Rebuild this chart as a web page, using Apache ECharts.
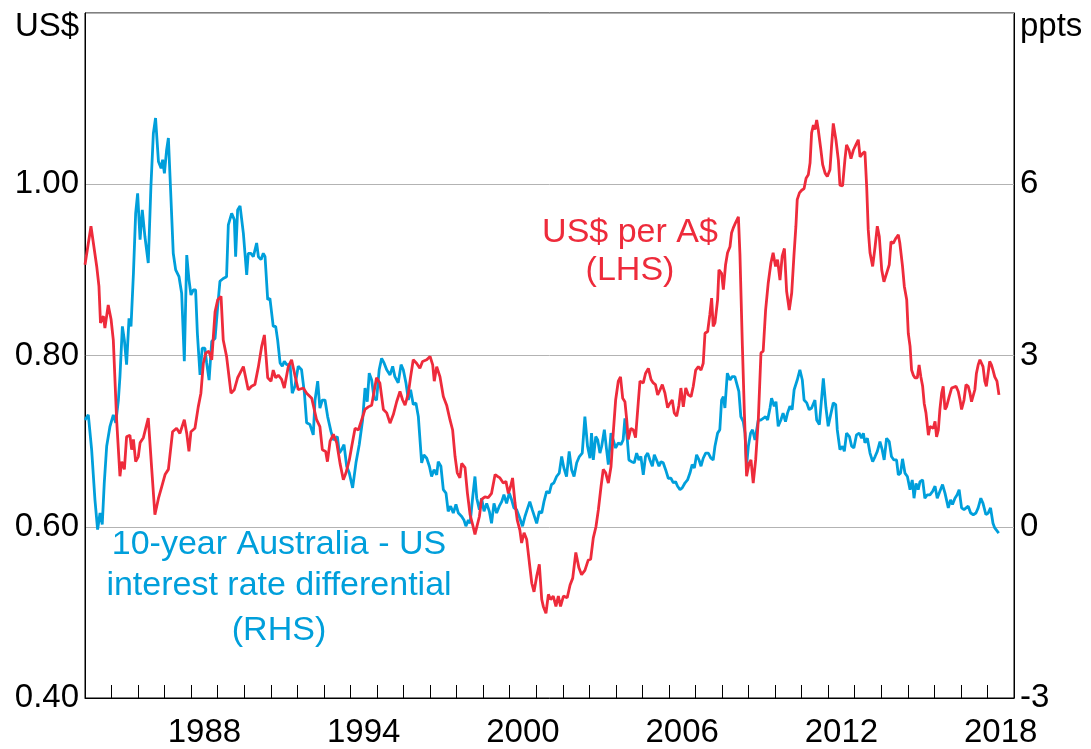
<!DOCTYPE html>
<html>
<head>
<meta charset="utf-8">
<script src="https://cdn.jsdelivr.net/npm/echarts@6/dist/echarts.min.js"></script>
<style>
html,body{margin:0;padding:0;background:#fff;}
#chart{width:1091px;height:749px;}
</style>
</head>
<body>
<div id="chart"></div>
<script>
// Months since Jan 1984, value
const usdPerAud = [[0,.906],[2.7,.951],[5.3,.904],[6.3,.881],[7,.838],[8.3,.846],[9,.832],[10.5,.859],[11.8,.842],[12.8,.818],[14.3,.725],[15.8,.659],[16.6,.676],[17.8,.667],[18.8,.705],[20.3,.707],[21.1,.690],[21.9,.702],[22.9,.676],[24.1,.682],[24.9,.698],[26.4,.704],[28.6,.727],[30.1,.670],[31.6,.614],[33.2,.633],[34.7,.647],[36.2,.661],[37.7,.667],[39.6,.711],[41.4,.715],[42.9,.709],[43.7,.707],[44.9,.725],[46,.709],[47,.688],[47.9,.711],[49.7,.715],[51.2,.740],[52.4,.756],[53.5,.791],[54.6,.803],[56,.805],[57.3,.795],[58.8,.851],[60,.865],[61.5,.869],[62.5,.818],[64,.799],[66,.756],[67.5,.760],[69,.774],[71.6,.787],[73.8,.760],[75.3,.764],[76.8,.766],[78.4,.787],[79.9,.811],[81.1,.824],[82.6,.774],[84.1,.770],[85.1,.783],[86.2,.774],[87.4,.777],[88.9,.772],[90.1,.762],[91.9,.787],[93.4,.795],[94.9,.777],[96.4,.760],[98.7,.762],[100.2,.756],[102.5,.750],[104.7,.725],[106.2,.717],[107.3,.690],[108.8,.688],[109.6,.676],[110.8,.700],[112.3,.708],[113.8,.698],[115.3,.674],[116.8,.655],[118,.663],[119.5,.678],[120.6,.694],[122.1,.715],[123.6,.713],[125.1,.725],[126.6,.737],[128.1,.740],[129.6,.742],[130.3,.752],[131.8,.774],[133.3,.768],[134.9,.737],[136.4,.733],[137.9,.721],[139.4,.731],[140.9,.746],[142.4,.758],[143.6,.748],[144.7,.742],[146.2,.756],[147.2,.775],[148.4,.795],[149.9,.791],[151.4,.785],[152.6,.793],[154.5,.795],[156,.799],[157.2,.789],[157.9,.770],[159,.787],[160.5,.775],[162,.752],[163.5,.742],[165,.725],[166.2,.713],[167.3,.682],[168.3,.663],[169.5,.657],[170.3,.674],[171.8,.669],[172.9,.639],[174.1,.614],[175.3,.602],[176.3,.591],[177.1,.589],[178.3,.612],[179.3,.632],[180.8,.635],[182.3,.634],[183.8,.639],[185.4,.661],[186.4,.659],[187.6,.657],[189.1,.651],[190.3,.653],[191.4,.639],[192.4,.647],[193.3,.657],[194.4,.628],[195.4,.608],[196.6,.596],[197.4,.581],[198.5,.593],[199.7,.585],[200.9,.558],[202,.534],[203,.524],[204.2,.542],[205.4,.556],[206.5,.515],[207.2,.507],[208.4,.499],[209.5,.521],[210.5,.515],[211.7,.519],[212.9,.507],[214,.519],[215,.507],[216.3,.519],[218,.517],[219.3,.532],[220.5,.540],[221.9,.570],[223.3,.552],[224.5,.544],[226,.549],[227.5,.561],[228.6,.562],[229.8,.587],[231,.600],[232.1,.620],[233.3,.647],[234.3,.667],[235.4,.663],[236.6,.651],[237.8,.670],[238.8,.709],[239.9,.748],[241.1,.770],[242.1,.775],[243.1,.750],[244.1,.746],[244.9,.725],[245.6,.702],[246.8,.715],[247.9,.713],[248.9,.704],[250.1,.744],[250.9,.770],[252.4,.768],[253.4,.779],[254.7,.785],[255.9,.772],[256.9,.768],[257.9,.766],[258.9,.754],[260,.760],[261,.766],[262.2,.756],[263.4,.739],[264.4,.744],[265.5,.748],[266.4,.733],[267.5,.729],[268.5,.742],[269.4,.762],[270.5,.740],[271.6,.762],[272.8,.754],[274,.752],[275,.764],[276.1,.783],[277.3,.787],[278.5,.783],[279.5,.791],[280.3,.826],[281.5,.828],[282.5,.848],[283.3,.867],[284,.834],[284.8,.838],[286,.865],[286.6,.900],[287.8,.896],[288.6,.877],[289.6,.906],[290.5,.920],[291.6,.927],[292.3,.943],[293.1,.949],[294.1,.955],[295.4,.962],[296.1,.918],[297.2,.811],[298.1,.733],[299.1,.659],[300.2,.674],[301.1,.678],[302.1,.651],[303.2,.678],[304.4,.725],[305.6,.803],[306.6,.805],[307.7,.853],[308.9,.885],[310.1,.908],[311.1,.920],[312.2,.904],[313.1,.912],[314.2,.888],[315.2,.916],[316.2,.925],[317.2,.875],[318.4,.853],[319.5,.873],[320.5,.916],[321.4,.951],[322,.982],[323,.990],[324,.993],[325.1,.995],[326,1.007],[327,1.011],[327.8,1.025],[328.5,1.060],[329.3,1.069],[330,1.064],[330.8,1.075],[331.5,1.064],[332.6,1.042],[333.5,1.023],[334.6,1.013],[335.6,1.009],[336.8,1.017],[337.5,1.044],[338.3,1.071],[339.5,1.052],[340.6,1.028],[341.3,.999],[342.5,.998],[343.6,1.030],[344.3,1.046],[345.4,1.040],[346.3,1.030],[347.4,1.040],[348.5,1.046],[349.6,1.052],[350.4,1.032],[351.6,1.036],[352.6,1.038],[353.4,.997],[354.1,.947],[354.9,.920],[356.1,.904],[357.2,.927],[358.2,.951],[359.1,.939],[360.2,.900],[361.2,.886],[362.4,.896],[363.6,.906],[364.4,.933],[365.4,.931],[366.6,.937],[367.7,.941],[368.4,.931],[369.6,.904],[370.4,.881],[371.5,.865],[372.2,.826],[373,.811],[373.7,.783],[374.5,.777],[375.2,.774],[376.3,.774],[377.1,.789],[377.9,.775],[378.7,.764],[379.4,.744],[380.2,.733],[381.3,.707],[382,.717],[382.8,.719],[383.5,.715],[384.3,.723],[385,.705],[385.8,.713],[386.5,.737],[387.3,.756],[388,.764],[388.8,.737],[389.5,.740],[390.7,.752],[391.8,.762],[392.6,.760],[393.8,.764],[394.8,.758],[395.6,.748],[396.3,.737],[397.4,.748],[398.3,.766],[399.3,.764],[400.1,.756],[400.8,.746],[401.6,.746],[402.3,.760],[403,.779],[403.8,.789],[404.6,.795],[405.3,.797],[406,.787],[406.8,.770],[407.5,.764],[408.3,.766],[409,.793],[409.8,.789],[410.5,.783],[411.3,.775],[412.3,.770],[413.2,.754]];

const rateDiff = [[0,1.87],[1.5,1.96],[3,1.35],[4.5,0.47],[5.7,-0.05],[6.8,0.24],[7.8,0.04],[8.7,0.76],[9.8,1.41],[11.3,1.76],[12.8,1.96],[13.9,1.82],[15.1,2.22],[15.8,2.63],[16.9,3.51],[17.8,3.27],[18.8,2.84],[19.9,3.65],[20.8,3.51],[21.9,4.44],[22.9,5.49],[23.8,5.84],[24.9,5.03],[25.9,5.55],[27.1,5.08],[28.6,4.62],[29.8,5.96],[30.9,6.89],[31.9,7.16],[33.2,6.40],[34.4,6.28],[35.1,6.43],[35.9,6.19],[36.9,6.60],[37.7,6.81],[38.7,5.90],[39.9,4.79],[41,4.50],[42.5,4.38],[43.7,4.09],[44.9,2.90],[46,4.76],[47,4.33],[47.9,4.06],[49,4.15],[50,4.15],[50.8,3.39],[52,2.66],[53,3.13],[54.2,3.13],[55,2.87],[56.1,2.57],[57.3,3.25],[58.8,3.30],[60,3.86],[61,4.30],[62.5,4.35],[64,4.38],[64.8,5.29],[66.3,5.49],[67.5,5.38],[68.1,4.73],[69,5.55],[70.1,5.62],[71.6,5.14],[73.1,4.41],[73.8,4.79],[75,4.79],[76.1,4.73],[77.6,4.97],[78.4,4.73],[79.6,4.68],[80.6,4.79],[81.4,4.73],[82.6,3.98],[83.6,4.00],[85.1,3.51],[86.2,3.51],[87.1,3.27],[88.2,2.87],[89.2,2.81],[90.1,2.90],[91.2,2.84],[92.7,2.84],[93.7,2.34],[94.9,2.46],[96.4,2.81],[97.9,2.75],[99.2,2.34],[100.2,1.82],[101.7,1.79],[103.2,1.61],[104,2.22],[105.2,2.55],[106.2,2.08],[107.3,2.22],[108.5,2.22],[109.7,1.93],[111.2,1.67],[112.3,1.52],[113,1.55],[114.1,1.58],[115,1.29],[116,1.35],[117.1,1.44],[118.3,1.06],[119.5,0.94],[121,0.68],[122.5,1.12],[124,1.44],[125.5,1.87],[126.6,2.43],[127.6,2.19],[128.5,2.69],[129.6,2.57],[130.7,2.25],[131.8,2.22],[133,2.75],[134.1,2.95],[135.2,2.87],[136.4,2.75],[137.9,2.66],[139.1,2.81],[140.1,2.63],[141.6,2.52],[142.9,2.84],[143.9,2.75],[145.1,2.52],[146.2,2.22],[147.2,2.40],[148.4,2.14],[149.6,2.17],[150.7,1.93],[152.2,1.12],[153.2,1.26],[154.5,1.20],[155.7,1.06],[156.7,0.88],[157.8,1.00],[159,0.91],[159.7,1.14],[160.9,1.06],[162,0.65],[163.2,0.59],[164.2,0.27],[165.3,0.36],[166.5,0.24],[167.7,0.39],[168.8,0.24],[170.3,0.18],[171.3,0.12],[172.2,0.01],[173.3,0.12],[174.1,0.06],[175.3,0.53],[176.3,0.88],[177.1,0.50],[178.3,0.30],[179.3,0.50],[180.4,0.27],[181.6,0.41],[182.8,0.27],[183.8,0.06],[184.9,0.41],[186.1,0.24],[187.3,0.36],[188.4,0.44],[189.4,0.56],[190.6,0.41],[191.8,0.59],[192.9,0.47],[193.9,0.33],[195.1,0.30],[196.3,0.18],[197.8,0.01],[198.9,0.18],[199.9,0.30],[201.1,0.44],[202.2,0.30],[202.9,0.27],[204.2,0.06],[205.4,0.27],[206.5,0.24],[207.5,0.44],[208.7,0.62],[209.9,0.59],[210.9,0.74],[212,0.77],[213.2,0.88],[214.4,0.94],[215.5,1.23],[216.5,1.03],[217.7,0.88],[218.9,1.32],[220,1.00],[221.1,0.88],[222.3,1.12],[223.5,1.23],[224.8,1.29],[226,1.93],[227.2,1.41],[228.3,1.20],[229,1.64],[229.8,1.17],[230.9,1.58],[231.8,1.52],[232.8,1.29],[233.6,1.41],[234.8,1.70],[235.8,1.35],[236.6,1.09],[237.8,1.64],[238.8,1.52],[239.9,1.38],[241.1,1.47],[242.3,1.44],[243.3,1.52],[244.1,1.90],[245.2,1.52],[245.9,1.17],[247.1,1.14],[248.3,1.12],[249.4,1.29],[250.4,1.17],[251.3,1.23],[252.4,0.91],[253.4,1.23],[254.4,1.29],[255.4,1.17],[256.5,1.06],[257.4,1.26],[258.4,1.17],[259.5,1.06],[260.4,1.14],[261.4,1.12],[262.5,1.00],[263.7,0.85],[264.9,0.85],[266,0.77],[267,0.79],[267.9,0.71],[269,0.65],[270,0.68],[271.3,0.77],[272.4,0.82],[273.5,0.94],[274.5,1.09],[275.5,1.03],[276.5,1.26],[277.6,1.17],[278.5,1.06],[279.5,1.20],[280.6,1.29],[281.8,1.29],[283,1.20],[284,1.17],[284.8,1.41],[286,1.64],[287,1.70],[287.8,2.22],[288.6,2.28],[289.3,2.08],[290.4,2.69],[291.6,2.57],[292.6,2.63],[293.8,2.63],[294.6,2.66],[295.6,2.37],[296.5,1.93],[297.6,1.84],[298.4,1.64],[299.1,1.06],[299.9,1.41],[300.9,1.64],[301.8,1.70],[302.9,1.52],[303.6,1.52],[304.4,1.87],[305.6,1.87],[306.6,1.90],[307.7,1.93],[308.6,1.87],[309.7,2.08],[310.4,2.25],[311.6,2.11],[312.4,2.19],[313.4,1.76],[314.6,1.87],[315.6,1.99],[316.7,1.84],[317.6,1.99],[318.7,2.11],[319.7,2.05],[320.6,2.40],[322,2.57],[323.2,2.75],[324.3,2.57],[325.1,2.22],[326.3,2.17],[327.4,2.05],[328.5,2.08],[329.3,2.05],[330,2.22],[330.8,1.87],[332,1.79],[332.6,1.76],[333.8,2.60],[335,2.08],[336,1.76],[337.1,1.96],[338.3,2.17],[339.4,2.14],[340.1,1.70],[341.3,1.35],[342.5,1.41],[343.3,1.32],[344.3,1.64],[345.6,1.58],[346.6,1.41],[347.6,1.38],[348.8,1.61],[350,1.64],[351.1,1.55],[351.9,1.64],[352.6,1.47],[353.7,1.55],[354.9,1.29],[356.1,1.14],[357.2,1.23],[358.2,1.32],[359.4,1.49],[360.4,1.35],[361.3,1.17],[362.4,1.55],[363.6,1.49],[364.6,1.23],[365.7,1.17],[366.9,1.17],[367.7,0.91],[368.7,0.94],[369.6,1.19],[370.7,0.94],[371.8,0.88],[373,0.65],[374,0.82],[374.8,0.50],[375.7,0.76],[376.7,0.65],[377.5,0.79],[378.7,0.82],[379.7,0.50],[380.8,0.56],[382,0.56],[383.2,0.62],[384.3,0.71],[385.3,0.50],[386.5,0.62],[387.7,0.74],[388.8,0.59],[390.3,0.33],[391.3,0.47],[392.2,0.39],[393.3,0.50],[394.3,0.56],[395.2,0.65],[396.3,0.33],[397.4,0.30],[398.3,0.27],[399.3,0.36],[400.4,0.24],[401.6,0.21],[402.8,0.24],[403.8,0.33],[405,0.50],[406,0.41],[407.3,0.21],[408.3,0.24],[409.4,0.33],[410.5,0.06],[411.3,-0.02],[412.1,0.01],[413.1,-0.11]];

const startYear = 1984;
const endYear = 2019;
const labelYears = [1988, 1994, 2000, 2006, 2012, 2018];
const leftTicks = ['0.40', '0.60', '0.80', '1.00'];
const rightTicks = ['-3', '0', '3', '6'];

const RED = '#EE2B3B';
const BLUE = '#009FDB';
const FONT = '"Liberation Sans", Arial, sans-serif';

const toYear = d => [startYear + d[0] / 12, d[1]];

const chart = echarts.init(document.getElementById('chart'), null, {renderer: 'canvas'});
chart.setOption({
  animation: false,
  backgroundColor: '#fff',
  grid: {left: 85, right: 77, top: 13, bottom: 51, show: true, borderColor: '#000', borderWidth: 1, containLabel: false},
  xAxis: {
    type: 'value', min: startYear, max: endYear, interval: 1,
    axisLine: {show: true, onZero: false, lineStyle: {color: '#000', width: 1}},
    axisTick: {show: true, inside: true, length: 13, lineStyle: {color: '#000', width: 1}},
    splitLine: {show: false},
    axisLabel: {
      show: true, margin: 18, fontSize: 33, color: '#000', fontFamily: FONT,
      padding: [0, 0, 0, 26.5],
      formatter: v => labelYears.indexOf(Math.round(v)) >= 0 ? String(Math.round(v)) : ''
    }
  },
  yAxis: [{
    type: 'value', position: 'left', min: 0.4, max: 1.2, interval: 0.2,
    axisLine: {show: true, onZero: false, lineStyle: {color: '#000'}},
    axisTick: {show: false},
    splitLine: {show: true, lineStyle: {color: '#b3b3b3', width: 1}},
    axisLabel: {margin: 6, fontSize: 33, color: '#000', fontFamily: FONT,
      formatter: v => { const s = v.toFixed(2); return leftTicks.indexOf(s) >= 0 ? s : ''; }}
  }, {
    type: 'value', position: 'right', min: -3, max: 9, interval: 3,
    axisLine: {show: true, onZero: false, lineStyle: {color: '#000'}},
    axisTick: {show: false},
    splitLine: {show: false},
    axisLabel: {margin: 6, fontSize: 33, color: '#000', fontFamily: FONT,
      formatter: v => { const s = String(Math.round(v)); return rightTicks.indexOf(s) >= 0 ? s : ''; }}
  }],
  series: [{
    name: '10-year Australia - US interest rate differential', type: 'line', yAxisIndex: 1,
    data: rateDiff.map(toYear), showSymbol: false, symbol: 'none',
    lineStyle: {color: BLUE, width: 2.8}, z: 3
  }, {
    name: 'US$ per A$', type: 'line', yAxisIndex: 0,
    data: usdPerAud.map(toYear), showSymbol: false, symbol: 'none',
    lineStyle: {color: RED, width: 2.8}, z: 4
  }],
  graphic: [
    {type: 'text', left: 15, top: 10, style: {text: 'US$', fontSize: 33, fill: '#000', fontFamily: FONT}},
    {type: 'text', left: 1020, top: 10, style: {text: 'ppts', fontSize: 33, fill: '#000', fontFamily: FONT}},
    {type: 'text', x: 630, y: 233, style: {text: 'US$ per A$', fontSize: 34, fill: RED, fontFamily: FONT, align: 'center', verticalAlign: 'middle'}},
    {type: 'text', x: 630, y: 271, style: {text: '(LHS)', fontSize: 34, fill: RED, fontFamily: FONT, align: 'center', verticalAlign: 'middle'}},
    {type: 'text', x: 279, y: 545, style: {text: '10-year Australia - US', fontSize: 34, fill: BLUE, fontFamily: FONT, align: 'center', verticalAlign: 'middle'}},
    {type: 'text', x: 279, y: 586, style: {text: 'interest rate differential', fontSize: 34, fill: BLUE, fontFamily: FONT, align: 'center', verticalAlign: 'middle'}},
    {type: 'text', x: 279, y: 631, style: {text: '(RHS)', fontSize: 34, fill: BLUE, fontFamily: FONT, align: 'center', verticalAlign: 'middle'}}
  ]
});
</script>
</body>
</html>
